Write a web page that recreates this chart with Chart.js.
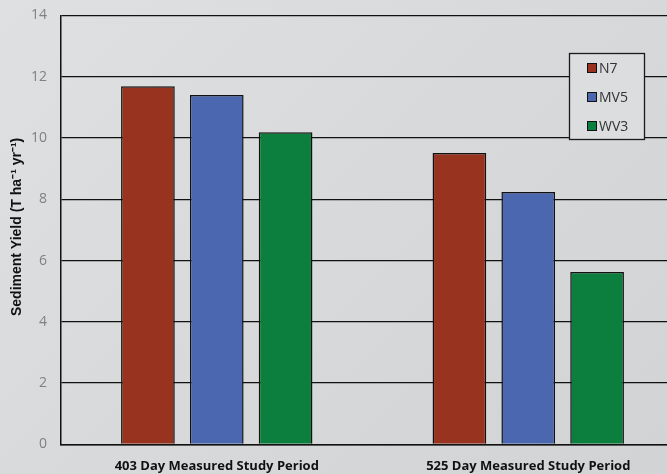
<!DOCTYPE html>
<html>
<head>
<meta charset="utf-8">
<script src="https://cdn.jsdelivr.net/npm/chart.js@4/dist/chart.umd.min.js"></script>
<style>
html,body{margin:0;padding:0;overflow:hidden;width:667px;height:474px;background:linear-gradient(135deg,#dfe0e2 0%,#d8d9db 50%,#d2d3d5 100%);}
#wrap{position:relative;width:700px;height:474px;overflow:hidden;}
#c{position:absolute;left:0;top:-7px;}
</style>
</head>
<body>
<div id="wrap"><canvas id="c" width="700" height="481"></canvas></div>
<script>
const categories = ["403 Day Measured Study Period", "525 Day Measured Study Period"];
const seriesNames = ["N7", "MV5", "WV3"];
const n7 = [11.69, 9.51];
const mv5 = [11.40, 8.24];
const wv3 = [10.19, 5.63];
const yTicks = [0, 2, 4, 6, 8, 10, 12, 14];
const colors = ["#983320", "#4a67b0", "#0c7e3e"];
const yTitle = 'Sediment Yield (T ha⁻¹ yr⁻¹)';
const SHIFT = 7; // canvas is shifted up by this many pixels

const legendBox = {
  id: 'legendBox',
  afterDraw(chart) {
    const ctx = chart.ctx;
    const x = 569, y = 53 + SHIFT, w = 75, h = 86;
    ctx.save();
    ctx.fillStyle = '#dcdddf';
    ctx.fillRect(x, y, w, h);
    ctx.strokeStyle = '#1a1a1a';
    ctx.lineWidth = 1.3;
    ctx.strokeRect(x + 0.5, y + 0.5, w, h);
    chart.data.datasets.forEach((ds, i) => {
      const cy = y + 15 + i * 29;
      ctx.fillStyle = ds.backgroundColor;
      ctx.fillRect(x + 18, cy - 5, 10, 10);
      ctx.strokeStyle = '#111';
      ctx.lineWidth = 1;
      ctx.strokeRect(x + 18.5, cy - 4.5, 9, 9);
      ctx.fillStyle = '#333';
      ctx.font = '14px "Open Sans", sans-serif';
      ctx.textBaseline = 'middle';
      ctx.fillText(ds.label, x + 30, cy + 1);
    });
    // y axis title
    const a = chart.chartArea;
    ctx.translate(17, (a.top + a.bottom) / 2 - 3);
    ctx.rotate(-Math.PI / 2);
    ctx.fillStyle = '#111';
    ctx.font = 'bold 14px "Liberation Sans", Arial, sans-serif';
    ctx.textAlign = 'center';
    ctx.textBaseline = 'middle';
    ctx.fillText(yTitle, 0, 0);
    ctx.restore();
  }
};

new Chart(document.getElementById('c'), {
  type: 'bar',
  data: {
    labels: categories,
    datasets: [
      { label: seriesNames[0], data: n7, backgroundColor: colors[0] },
      { label: seriesNames[1], data: mv5, backgroundColor: colors[1] },
      { label: seriesNames[2], data: wv3, backgroundColor: colors[2] }
    ]
  },
  options: {
    responsive: false,
    animation: false,
    devicePixelRatio: 1,
    layout: { padding: { left: 17, right: 16, top: 0, bottom: -14 } },
    datasets: {
      bar: {
        borderColor: '#111',
        borderWidth: 1.5,
        categoryPercentage: 0.663,
        barPercentage: 0.78
      }
    },
    plugins: {
      legend: { display: false },
      tooltip: { enabled: false }
    },
    scales: {
      x: {
        grid: { display: false, drawTicks: false },
        border: { display: true, color: '#111', width: 1.5 },
        ticks: {
          color: '#111',
          font: { family: '"Open Sans", sans-serif', size: 13, weight: 'bold' },
          padding: 14
        }
      },
      y: {
        min: 0, max: 14,
        afterBuildTicks(scale) { scale.ticks = yTicks.map(v => ({ value: v })); },
        grid: { color: '#111', lineWidth: 1.3, drawTicks: false },
        border: { display: true, color: '#111', width: 1.5 },
        ticks: {
          color: '#808080',
          font: { family: '"Open Sans", sans-serif', size: 14 },
          padding: 14
        }
      }
    }
  },
  plugins: [legendBox]
});
</script>
</body>
</html>
